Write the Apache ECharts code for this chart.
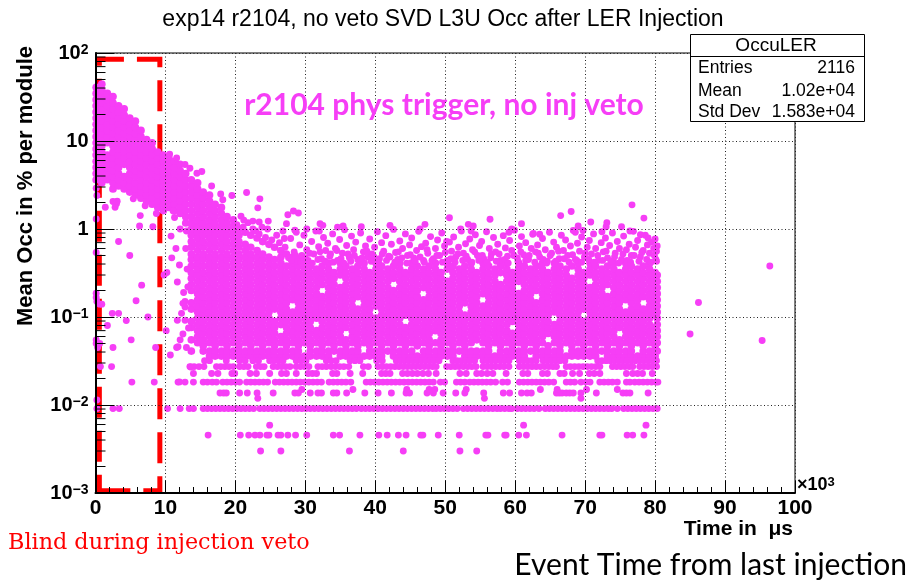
<!DOCTYPE html>
<html>
<head>
<meta charset="utf-8">
<script src="https://cdn.jsdelivr.net/npm/echarts@6.0.0/dist/echarts.min.js"></script>
<style>html,body{margin:0;padding:0;background:#fff}#chart{width:915px;height:585px}</style>
</head>
<body>
<div id="chart"></div>
<script>
// Mean SVD L3U occupancy (%) vs. time since the last LER injection (x in units of 10^3 us).

// Early decay band inside the injection-veto window: [time, occupancies...]
const bandCols = [
  [0.1, 3.63,4.27,5.01,5.89,6.92,8.13,9.55,11.2,13.2,15.5,18.2,21.4,25.1,29.5,34.7,40.7],
  [0.9, 3.35,3.94,4.62,5.43,6.38,7.5,8.81,10.4,12.2,14.3,16.8,19.7,23.2,27.2,32,37.6,44.2],
  [1.7, 3.63,4.27,5.01,5.89,6.92,9.55,11.2,13.2,15.5,18.2,21.4,25.1,29.5,34.7],
  [2.5, 2.85,3.35,3.94,4.62,5.43,6.38,7.5,8.81,10.4,12.2,14.3,16.8,19.7,23.2,27.2,32],
  [3.3, 3.09,3.63,4.27,5.01,5.89,6.92,8.13,9.55,11.2,13.2,15.5,18.2,21.4,25.1],
  [4.1, 2.85,3.35,3.94,5.43,6.38,7.5,8.81,10.4,12.2,14.3,16.8,19.7,23.2],
  [4.9, 2.63,3.09,3.63,4.27,5.01,5.89,6.92,8.13,9.55,11.2,13.2,15.5,18.2],
  [5.7, 2.43,2.85,3.35,3.94,4.62,5.43,6.38,7.5,8.81,10.4,12.2,14.3,16.8],
  [6.5, 2.24,2.63,3.09,3.63,4.27,5.01,5.89,6.92,8.13,9.55,11.2,13.2],
  [7.3, 2.07,2.43,2.85,3.35,3.94,4.62,5.43,6.38,7.5,8.81,10.4],
  [8.1, 1.91,2.24,2.63,3.09,3.63,4.27,5.01,5.89,6.92,8.13,9.55],
  [8.9, 1.76,2.07,2.43,2.85,3.35,3.94,4.62,5.43,6.38,7.5],
  [9.7, 1.62,1.91,2.24,2.63,3.09,3.63,4.27,5.01,5.89,6.92],
  [10.5, 1.76,2.07,2.43,2.85,3.35,3.94,4.62,5.43,6.38],
  [11.3, 1.62,1.91,2.24,2.63,3.09,3.63,4.27,5.01,5.89],
  [12.1, 1.5,1.76,2.07,2.43,2.85,3.35,3.94,4.62,5.43],
  [12.9, 1.17,1.38,1.62,1.91,2.24,2.63,3.09,3.63,4.27]
];

// Main cloud after the veto window: [time, occupancies...]
const cloudCols = [
  [13.7, 0.041,0.055,0.076,0.089,0.123,0.145,0.2,0.234,0.275,0.32,0.38,0.45,0.52,0.62,0.72,0.85,1,1.17,1.38,1.62,1.91,2.24,2.63,3.09,3.63],
  [14.6, 0.051,0.06,0.07,0.082,0.097,0.114,0.133,0.157,0.184,0.216,0.254,0.3,0.35,0.41,0.48,0.57,0.67,0.79,0.92,1.08,1.27,1.5,1.76,2.07,2.43,2.85,3.35],
  [15.4, 0.041,0.047,0.055,0.065,0.076,0.089,0.105,0.123,0.145,0.17,0.2,0.234,0.275,0.32,0.38,0.45,0.52,0.62,0.72,0.85,1,1.17,1.38,1.62,1.91,2.24,2.63],
  [16.3, 0.036,0.041,0.051,0.06,0.07,0.082,0.097,0.114,0.133,0.157,0.184,0.216,0.254,0.3,0.35,0.41,0.48,0.57,0.67,0.79,0.92,1.08,1.27,1.5,1.76,2.07,2.43],
  [17.1, 0.036,0.041,0.047,0.055,0.065,0.076,0.089,0.105,0.123,0.145,0.17,0.2,0.234,0.275,0.32,0.38,0.45,0.52,0.62,0.72,0.85,1,1.17,1.38,1.62,1.91],
  [18.0, 0.036,0.041,0.051,0.06,0.07,0.082,0.097,0.114,0.133,0.157,0.184,0.216,0.254,0.3,0.35,0.41,0.48,0.57,0.67,0.79,0.92,1.08,1.27,1.5,1.76],
  [18.8, 0.036,0.041,0.047,0.055,0.065,0.076,0.089,0.105,0.123,0.145,0.17,0.2,0.234,0.275,0.32,0.38,0.45,0.52,0.62,0.72,0.85,1,1.17,1.38],
  [19.7, 0.036,0.041,0.051,0.06,0.07,0.082,0.097,0.114,0.133,0.157,0.184,0.216,0.254,0.3,0.35,0.41,0.48,0.57,0.67,0.79,0.92,1.08,1.27],
  [20.5, 0.036,0.041,0.047,0.055,0.065,0.076,0.089,0.105,0.123,0.145,0.17,0.2,0.234,0.275,0.32,0.38,0.45,0.52,0.62,0.72,0.85,1],
  [21.4, 0.036,0.041,0.051,0.06,0.07,0.082,0.097,0.114,0.133,0.157,0.184,0.216,0.254,0.3,0.35,0.41,0.48,0.57,0.67,0.92],
  [22.2, 0.036,0.041,0.047,0.055,0.065,0.076,0.089,0.105,0.123,0.145,0.17,0.2,0.234,0.275,0.32,0.38,0.45,0.52,0.62,0.85],
  [23.1, 0.036,0.041,0.051,0.06,0.07,0.082,0.097,0.114,0.133,0.157,0.184,0.216,0.254,0.3,0.35,0.41,0.48,0.57,0.79],
  [23.9, 0.036,0.041,0.047,0.055,0.065,0.076,0.089,0.105,0.123,0.145,0.17,0.2,0.234,0.275,0.32,0.38,0.45,0.52,0.72],
  [24.8, 0.036,0.041,0.051,0.06,0.07,0.082,0.097,0.114,0.133,0.157,0.184,0.216,0.254,0.3,0.35,0.41,0.48,0.67],
  [25.6, 0.036,0.041,0.047,0.055,0.065,0.076,0.089,0.123,0.145,0.17,0.2,0.234,0.275,0.32,0.38,0.45,0.62],
  [26.5, 0.036,0.041,0.051,0.06,0.082,0.097,0.114,0.133,0.157,0.184,0.216,0.254,0.3,0.35,0.41,0.48,0.57],
  [27.3, 0.036,0.041,0.047,0.055,0.065,0.076,0.089,0.105,0.123,0.145,0.17,0.2,0.234,0.275,0.32,0.38,0.52],
  [28.2, 0.036,0.041,0.051,0.06,0.07,0.082,0.097,0.114,0.157,0.184,0.216,0.254,0.3,0.35,0.41,0.48],
  [29.0, 0.036,0.041,0.047,0.055,0.065,0.076,0.089,0.105,0.123,0.145,0.17,0.2,0.234,0.275,0.32,0.38,0.45],
  [29.9, 0.036,0.051,0.06,0.07,0.082,0.097,0.114,0.133,0.157,0.184,0.216,0.254,0.3,0.35,0.41],
  [30.7, 0.036,0.041,0.047,0.055,0.065,0.076,0.089,0.105,0.123,0.145,0.17,0.2,0.234,0.275,0.32,0.38],
  [31.6, 0.036,0.041,0.051,0.06,0.07,0.097,0.114,0.133,0.157,0.184,0.216,0.254,0.3,0.35],
  [32.4, 0.036,0.041,0.047,0.055,0.065,0.076,0.089,0.105,0.123,0.145,0.17,0.234,0.275,0.32,0.38],
  [33.3, 0.036,0.041,0.051,0.06,0.07,0.082,0.097,0.114,0.133,0.157,0.184,0.216,0.254,0.3,0.35,0.41],
  [34.1, 0.041,0.047,0.055,0.065,0.076,0.089,0.105,0.123,0.145,0.17,0.2,0.234,0.275,0.32],
  [35.0, 0.036,0.041,0.051,0.06,0.07,0.082,0.097,0.114,0.133,0.157,0.184,0.216,0.3,0.35,0.41],
  [35.8, 0.036,0.041,0.047,0.055,0.076,0.089,0.105,0.123,0.145,0.17,0.2,0.234,0.275,0.32,0.38],
  [36.7, 0.036,0.041,0.051,0.06,0.07,0.082,0.097,0.114,0.133,0.157,0.184,0.216,0.254,0.3,0.35],
  [37.5, 0.036,0.041,0.047,0.055,0.065,0.076,0.089,0.105,0.123,0.17,0.2,0.234,0.275,0.32,0.38],
  [38.4, 0.036,0.051,0.06,0.07,0.082,0.097,0.114,0.133,0.157,0.184,0.216,0.254,0.3,0.35,0.41],
  [39.2, 0.036,0.041,0.047,0.055,0.065,0.076,0.089,0.105,0.123,0.145,0.17,0.2,0.234,0.275,0.32],
  [40.1, 0.036,0.041,0.051,0.06,0.07,0.082,0.097,0.133,0.157,0.184,0.216,0.254,0.3,0.35,0.41],
  [40.9, 0.036,0.041,0.047,0.055,0.065,0.076,0.089,0.105,0.123,0.145,0.17,0.2,0.234,0.275,0.32,0.38],
  [41.8, 0.041,0.051,0.06,0.07,0.082,0.097,0.114,0.133,0.157,0.184,0.216,0.254,0.3,0.35],
  [42.6, 0.036,0.041,0.047,0.055,0.065,0.076,0.089,0.105,0.123,0.145,0.17,0.2,0.275,0.32,0.38],
  [43.5, 0.036,0.041,0.051,0.06,0.07,0.082,0.097,0.114,0.133,0.157,0.184,0.216,0.254,0.3,0.35,0.41],
  [44.3, 0.036,0.041,0.047,0.055,0.065,0.076,0.105,0.123,0.145,0.17,0.2,0.234,0.275,0.32],
  [45.2, 0.036,0.041,0.051,0.06,0.07,0.082,0.097,0.114,0.133,0.157,0.184,0.216,0.254,0.3,0.35,0.41],
  [46.0, 0.036,0.047,0.055,0.065,0.076,0.089,0.105,0.123,0.145,0.17,0.2,0.234,0.275,0.32,0.38],
  [46.9, 0.036,0.041,0.051,0.06,0.07,0.082,0.097,0.114,0.133,0.157,0.216,0.254,0.3,0.35],
  [47.7, 0.036,0.041,0.047,0.055,0.065,0.076,0.089,0.105,0.123,0.145,0.17,0.2,0.234,0.275,0.32,0.38],
  [48.6, 0.036,0.041,0.051,0.07,0.082,0.097,0.114,0.133,0.157,0.184,0.216,0.254,0.3,0.35,0.41],
  [49.4, 0.036,0.041,0.047,0.055,0.065,0.076,0.089,0.105,0.123,0.145,0.17,0.2,0.234,0.275,0.32],
  [50.3, 0.036,0.041,0.051,0.06,0.07,0.082,0.097,0.114,0.133,0.157,0.184,0.216,0.254,0.35,0.41],
  [51.1, 0.036,0.041,0.047,0.055,0.065,0.076,0.089,0.105,0.123,0.145,0.17,0.2,0.234,0.275,0.32,0.38],
  [52.0, 0.041,0.051,0.06,0.07,0.082,0.097,0.114,0.133,0.157,0.184,0.216,0.254,0.3,0.35],
  [52.8, 0.036,0.041,0.047,0.055,0.065,0.076,0.089,0.105,0.145,0.17,0.2,0.234,0.275,0.32,0.38],
  [53.7, 0.036,0.041,0.051,0.06,0.07,0.082,0.097,0.114,0.133,0.157,0.184,0.216,0.254,0.3,0.35,0.41],
  [54.5, 0.036,0.041,0.055,0.065,0.076,0.089,0.105,0.123,0.145,0.17,0.2,0.234,0.275,0.32],
  [55.4, 0.036,0.041,0.051,0.06,0.07,0.082,0.097,0.114,0.133,0.184,0.216,0.254,0.3,0.35,0.41],
  [56.2, 0.036,0.041,0.047,0.055,0.065,0.076,0.089,0.105,0.123,0.145,0.17,0.2,0.234,0.275,0.32,0.38],
  [57.1, 0.036,0.051,0.06,0.07,0.082,0.097,0.114,0.133,0.157,0.184,0.216,0.254,0.3,0.35],
  [57.9, 0.036,0.041,0.047,0.055,0.065,0.076,0.089,0.105,0.123,0.145,0.17,0.2,0.234,0.32,0.38],
  [58.8, 0.036,0.041,0.051,0.06,0.07,0.082,0.097,0.114,0.133,0.157,0.184,0.216,0.254,0.3,0.35,0.41],
  [59.6, 0.036,0.041,0.047,0.055,0.065,0.089,0.105,0.123,0.145,0.17,0.2,0.234,0.275,0.32],
  [60.5, 0.036,0.041,0.051,0.06,0.07,0.082,0.097,0.114,0.133,0.157,0.184,0.254,0.3,0.35,0.41],
  [61.3, 0.036,0.041,0.047,0.055,0.065,0.076,0.089,0.105,0.123,0.145,0.17,0.2,0.234,0.275,0.32,0.38],
  [62.2, 0.041,0.051,0.06,0.07,0.082,0.097,0.114,0.133,0.157,0.184,0.216,0.254,0.3,0.35],
  [63.0, 0.036,0.041,0.047,0.055,0.065,0.076,0.089,0.105,0.123,0.145,0.2,0.234,0.275,0.32,0.38],
  [63.9, 0.036,0.041,0.051,0.06,0.07,0.082,0.097,0.114,0.133,0.157,0.184,0.216,0.254,0.3,0.35,0.41],
  [64.7, 0.036,0.041,0.047,0.065,0.076,0.089,0.105,0.123,0.145,0.17,0.2,0.234,0.275,0.32],
  [65.6, 0.036,0.041,0.051,0.06,0.07,0.082,0.114,0.133,0.157,0.184,0.216,0.254,0.3,0.35,0.41],
  [66.4, 0.036,0.041,0.047,0.055,0.065,0.076,0.089,0.105,0.123,0.145,0.17,0.2,0.234,0.275,0.32,0.38],
  [67.3, 0.036,0.051,0.06,0.07,0.082,0.097,0.114,0.133,0.157,0.184,0.216,0.254,0.3,0.35],
  [68.1, 0.036,0.041,0.047,0.055,0.065,0.076,0.089,0.105,0.123,0.145,0.17,0.2,0.234,0.275,0.38],
  [69.0, 0.036,0.041,0.051,0.06,0.07,0.082,0.097,0.114,0.133,0.157,0.184,0.216,0.254,0.3,0.35,0.41],
  [69.8, 0.036,0.041,0.047,0.055,0.065,0.076,0.089,0.123,0.145,0.17,0.2,0.234,0.275,0.32],
  [70.7, 0.036,0.041,0.051,0.06,0.07,0.082,0.097,0.114,0.133,0.157,0.184,0.216,0.3,0.35,0.41],
  [71.5, 0.036,0.041,0.047,0.055,0.065,0.076,0.089,0.105,0.123,0.145,0.17,0.2,0.234,0.275,0.32,0.38],
  [72.4, 0.041,0.051,0.06,0.07,0.082,0.097,0.114,0.133,0.157,0.184,0.216,0.254,0.3,0.35],
  [73.2, 0.036,0.041,0.047,0.055,0.065,0.076,0.089,0.105,0.123,0.145,0.17,0.234,0.275,0.32,0.38],
  [74.1, 0.036,0.041,0.051,0.06,0.07,0.082,0.097,0.114,0.133,0.157,0.184,0.216,0.254,0.3,0.35,0.41],
  [74.9, 0.036,0.041,0.047,0.055,0.076,0.089,0.105,0.123,0.145,0.17,0.2,0.234,0.275,0.32],
  [75.8, 0.036,0.041,0.051,0.06,0.07,0.082,0.097,0.114,0.157,0.184,0.216,0.254,0.3,0.35,0.41],
  [76.6, 0.036,0.041,0.047,0.055,0.065,0.076,0.089,0.105,0.123,0.145,0.17,0.2,0.234,0.275,0.32,0.38],
  [77.5, 0.036,0.051,0.06,0.07,0.082,0.097,0.114,0.133,0.157,0.184,0.216,0.254,0.3,0.35],
  [78.3, 0.036,0.041,0.047,0.055,0.065,0.076,0.089,0.105,0.123,0.17,0.2,0.234,0.275,0.32,0.38],
  [79.2, 0.036,0.041,0.051,0.06,0.07,0.082,0.097,0.114,0.133,0.157,0.184,0.216,0.254,0.3,0.35,0.41],
  [80.0, 0.036,0.041,0.047,0.055,0.065,0.076,0.105,0.123,0.145,0.17,0.2,0.234,0.275,0.32],
  [80.3, 0.041,0.051,0.06,0.07,0.082,0.097,0.114,0.133,0.157,0.184,0.216,0.254,0.3]
];

// Quantised low-occupancy levels (%) and the times at which they occur
const rowLevels = [0.003, 0.00455, 0.0059, 0.0091, 0.0119, 0.0137, 0.015, 0.0182, 0.0228, 0.0273, 0.0319];
const rowTimes = [
  [23.6, 26.5, 36.3, 44.0, 52.1, 54.5],
  [16.1, 20.7, 21.9, 22.8, 23.5, 24.5, 24.8, 26.1, 26.5, 27.5, 28.6, 30.2, 34.0, 34.9, 37.8, 40.5, 41.7, 43.3, 44.4, 46.5, 46.8, 49.0, 52.0, 55.8, 56.1, 58.5, 58.7, 60.5, 61.6, 66.7, 72.1, 72.4, 76.0, 76.8, 78.4],
  [24.9, 61.2, 78.7],
  [0.2, 2.5, 3.4, 10.3, 12.1, 13.4, 14.0, 15.4, 16.0, 16.6, 17.2, 17.8, 18.4, 19.0, 19.6, 20.2, 20.8, 21.4, 22.0, 22.6, 23.5, 24.1, 24.7, 25.3, 25.9, 26.5, 27.1, 27.7, 28.3, 28.9, 29.5, 30.1, 30.7, 31.3, 31.9, 32.5, 33.1, 33.7, 34.3, 34.9, 35.5, 36.1, 36.7, 37.3, 38.0, 38.6, 39.2, 39.8, 40.4, 41.0, 41.6, 42.2, 42.8, 43.4, 44.0, 44.6, 45.2, 45.8, 46.4, 47.0, 47.6, 48.2, 48.7, 49.3, 49.9, 50.5, 51.1, 51.7, 52.6, 53.2, 53.8, 54.4, 55.0, 55.6, 56.2, 56.8, 57.4, 57.9, 58.5, 59.1, 59.5, 60.3, 60.9, 61.5, 62.1, 62.7, 63.4, 64.3, 64.9, 65.5, 66.1, 66.7, 67.3, 67.9, 68.5, 69.1, 69.7, 70.3, 70.9, 71.5, 72.1, 72.7, 73.3, 73.8, 74.6, 75.5, 76.1, 76.7, 77.3, 77.9, 78.5, 79.1, 79.7, 80.3],
  [23.2, 55.6, 69.4],
  [17.8, 18.3, 18.7, 20.6, 21.7, 23.1, 25.4, 28.5, 29.0, 30.7, 31.8, 32.3, 34.0, 34.5, 35.9, 38.5, 40.4, 42.3, 44.4, 44.9, 47.4, 48.3, 49.7, 51.5, 52.8, 55.5, 58.3, 59.2, 60.9, 61.7, 62.3, 65.9, 66.3, 66.7, 67.3, 67.8, 68.3, 69.4, 71.6, 75.4, 75.9, 76.4, 79.0],
  [29.5, 36.8, 44.5, 47.7, 48.5, 53.0, 63.6, 66.0, 70.2, 74.6],
  [5.2, 8.4, 11.8, 12.8, 14.0, 15.4, 16.0, 16.7, 17.3, 18.2, 18.8, 19.4, 20.0, 20.6, 21.6, 22.2, 22.8, 23.4, 24.0, 24.6, 25.7, 26.3, 26.9, 27.5, 28.1, 28.7, 29.3, 29.9, 30.5, 31.1, 31.7, 32.3, 33.4, 34.0, 34.6, 35.2, 35.8, 36.5, 38.7, 39.3, 39.9, 40.5, 41.1, 41.7, 42.3, 42.9, 43.5, 44.1, 44.7, 45.3, 45.9, 46.5, 47.1, 47.7, 48.3, 49.3, 49.9, 51.6, 52.2, 52.8, 53.5, 54.1, 54.7, 55.3, 55.9, 56.5, 57.2, 58.2, 58.9, 60.6, 61.2, 61.8, 62.4, 63.0, 63.6, 64.2, 64.8, 65.5, 67.3, 67.9, 68.5, 69.4, 70.1, 70.7, 72.1, 72.7, 73.3, 73.9, 74.6, 75.9, 76.4, 77.1, 77.7, 78.3, 78.9, 79.5, 80.1, 80.4],
  [14.0, 16.6, 17.5, 19.5, 19.9, 22.1, 23.0, 24.9, 26.6, 27.3, 28.7, 30.4, 31.0, 31.6, 33.9, 34.5, 36.4, 38.2, 40.9, 41.5, 42.1, 43.9, 44.6, 45.3, 46.0, 46.8, 47.6, 48.7, 52.1, 53.0, 54.5, 55.2, 56.0, 56.8, 58.7, 61.1, 61.8, 63.9, 64.6, 66.4, 67.0, 68.2, 69.2, 70.6, 71.3, 72.1, 75.9, 76.8, 77.5, 78.2, 79.6],
  [0.7, 2.3, 13.5, 14.1, 14.8, 15.5, 17.3, 17.9, 18.5, 19.1, 19.7, 20.6, 21.2, 21.8, 23.0, 23.6, 24.1, 25.4, 26.0, 26.6, 27.2, 27.8, 28.7, 29.3, 29.9, 30.5, 31.8, 32.4, 33.0, 33.7, 34.3, 34.9, 35.5, 36.2, 38.3, 39.0, 40.4, 41.0, 41.6, 42.2, 42.8, 43.4, 44.0, 44.6, 45.2, 45.8, 46.4, 47.0, 47.6, 48.2, 48.7, 50.2, 50.8, 51.4, 52.0, 52.6, 53.2, 53.8, 54.4, 55.4, 56.0, 56.6, 57.2, 57.8, 58.4, 59.1, 60.6, 61.2, 61.8, 62.4, 63.0, 63.6, 64.2, 64.8, 65.4, 65.9, 67.3, 67.9, 68.5, 69.1, 69.7, 70.3, 70.9, 71.5, 72.1, 73.9, 74.5, 75.1, 75.7, 76.3, 76.8, 77.8, 78.4, 79.0, 79.6, 80.2],
  [15.6, 16.3, 18.7, 20.6, 21.4, 22.5, 23.3, 24.9, 25.5, 26.2, 26.8, 28.7, 29.4, 30.1, 33.0, 33.7, 34.4, 36.4, 37.1, 37.8, 40.2, 41.0, 43.0, 43.6, 44.2, 44.8, 45.4, 46.0, 46.6, 47.2, 47.8, 48.4, 49.1, 51.1, 51.7, 52.3, 52.9, 53.5, 54.2, 55.4, 56.0, 56.6, 57.2, 57.9, 58.5, 59.1, 60.6, 61.2, 61.8, 62.4, 63.0, 64.0, 64.6, 65.2, 65.8, 66.4, 67.1, 71.8, 72.4, 73.0, 73.6, 74.2, 74.8, 75.4, 76.0, 76.6, 77.2, 77.8, 78.4, 79.0, 79.6, 80.2]
];

// Isolated entries around the band and the transition region: [time, occupancy]
const bandExtra = [
  [1.4,1.77],[2.8,1.77],[3.0,1.93],[3.1,2.07],[5.4,2.2],[6.4,1.42],[6.3,1.08],[7.1,1.84],[8.2,1.06],[8.7,1.5],
  [2.5,2.05],[3.3,0.72],[4.9,0.5],[6.6,0.23],[5.8,0.153],[2.4,0.11],[3.3,0.11],[4.4,0.091],[7.5,0.1],[1.7,0.08],
  [5.1,0.055],[2.5,0.045],[8.6,0.045],[0.1,0.54],[0.1,0.186],[0.1,0.167],[0.2,0.15],[0.6,0.14],[0.9,0.14],
  [0.1,0.05],[0.3,0.045],[0.6,0.05],[0.1,0.055],[0.2,0.0114],[0.1,2.9],[0.2,2.4],[0.1,1.3],
  [10.3,1.86],[11.1,1.6],[11.3,1.35],[10.8,0.83],[12.1,1.0],[10.9,0.47],[11.5,0.6],[13.0,0.95],[12.0,0.39],
  [10.2,0.32],[11.7,0.25],[12.6,0.19],[12.8,0.15],[12.8,0.13],[12.3,0.11],[11.7,0.092],[12.8,0.092],[12.1,0.055],
  [13.0,0.045],[11.6,0.045],[10.1,0.07],[12.5,0.143],[12.5,0.064],[11.8,0.046],[10.7,0.037],[12.0,0.0183],
  [13.6,0.027],[9.8,0.3],[12.9,0.6],[13.1,0.35],[13.2,0.22],[13.3,0.075],[15.2,4.5],[14.5,4.3],[12.8,5.4],
  [11.6,6.4],[10.6,7.1],[13.5,4.9]
];

// Sparse upper edge of the plateau and high outliers: [time, occupancy]
const upperPts = [
  [20.2,1.12],[20.8,1.4],[21.1,1.05],[21.8,1.18],[22.5,1.0],[22.9,0.95],[23.4,0.88],[23.8,1.05],[24.3,0.8],[24.6,1.0],
  [25.2,0.75],[25.9,0.85],[26.3,0.7],[26.8,0.95],[27.0,0.78],
  [27.1,0.62],[27.6,0.47],[27.9,0.78],[28.4,0.55],[28.7,0.92],[28.9,0.43],[29.2,0.66],[29.5,0.5],[29.8,0.85],[30.2,0.58],
  [30.4,0.44],[30.9,0.72],[31.2,0.52],[31.5,0.95],[31.9,0.63],[32.3,0.46],[32.6,0.8],[32.9,0.57],[33.2,0.69],[33.5,0.49],
  [33.9,0.88],[34.3,0.6],[34.6,0.44],[34.9,0.76],[35.3,0.53],[35.6,0.98],[35.9,0.65],[36.3,0.47],[36.6,0.83],[36.9,0.58],
  [37.2,0.71],[37.5,0.45],[37.9,0.9],[38.3,0.55],[38.6,0.64],[38.9,0.48],[39.2,0.77],[39.5,0.52],[39.9,0.62],[40.3,0.93],
  [40.6,0.46],[40.9,0.7],[41.2,0.56],[41.5,0.84],[41.9,0.49],[42.3,0.67],[42.6,0.99],[42.9,0.54],[43.2,0.45],[43.5,0.73],
  [43.9,0.6],[44.3,0.88],[44.6,0.5],[44.9,0.66],[45.2,0.79],[45.5,0.47],[45.9,0.57],[46.2,0.94],[46.6,0.63],[46.9,0.44],
  [47.2,0.69],[47.5,0.53],[47.9,0.82],[48.3,0.46],[48.6,0.6],[48.9,0.75],[49.2,0.5],[49.5,0.9],[49.9,0.64],[50.3,0.44],
  [50.6,0.71],[50.9,0.56],[51.2,0.81],[51.5,0.48],[51.9,0.62],[52.3,0.95],[52.6,0.53],[52.9,0.68],[53.2,0.45],[53.5,0.77],
  [53.9,0.58],[54.3,0.86],[54.6,0.5],[54.9,0.65],[55.2,0.72],[55.5,0.46],[55.9,0.93],[56.3,0.6],[56.6,0.52],[56.9,0.8],
  [57.2,0.55],[57.5,0.67],[57.9,0.44],[58.3,0.84],[58.6,0.61],[58.9,0.49],[59.2,0.74],[59.5,0.57],[59.9,0.97],[60.3,0.47],
  [60.6,0.64],[60.9,0.82],[61.2,0.51],[61.5,0.7],[61.9,0.45],[62.3,0.6],[62.6,0.89],[62.9,0.55],[63.2,0.66],[63.5,0.48],
  [63.9,0.78],[64.3,0.58],[64.6,0.43],[64.9,0.92],[65.2,0.53],[65.5,0.71],[65.9,0.62],[66.3,0.46],[66.6,0.85],[66.9,0.57],
  [67.2,0.75],[67.5,0.5],[67.9,0.64],[68.3,0.96],[68.6,0.45],[68.9,0.69],[69.2,0.56],[69.5,0.81],[69.9,0.48],[70.3,0.62],
  [70.6,0.74],[70.9,0.52],[71.2,0.88],[71.5,0.6],[71.9,0.44],[72.3,0.7],[72.6,0.55],[72.9,0.79],[73.2,0.47],[73.5,0.65],
  [73.9,0.9],[74.3,0.53],[74.6,0.72],[74.9,0.6],[75.2,0.45],[75.5,0.83],[75.9,0.58],[76.3,0.67],[76.6,0.5],[76.9,0.94],
  [77.2,0.62],[77.5,0.74],[77.9,0.48],[78.3,0.57],[78.6,0.85],[78.9,0.66],[79.2,0.53],[79.5,0.71],[79.8,0.6],[80.1,0.45],
  [80.3,0.64],[80.2,0.56],
  [16.6,3.08],[21.6,2.6],[17.9,2.5],[19.5,2.4],[23.5,2.2],[18.2,2.15],[23.2,1.74],[27.5,1.45],[28.3,1.6],[29.0,1.52],
  [24.7,1.23],[21.2,1.26],[22.5,1.23],[23.4,1.2],[32.1,1.15],[32.5,1.1],[35.4,1.08],[38.0,1.06],[42.1,1.1],[47.1,1.13],
  [46.4,1.0],[50.6,1.34],[53.3,1.13],[54.0,1.08],[56.4,1.29],[66.5,1.42],[68.0,1.58],[76.7,1.88],[78.4,1.33],[69.0,1.08],
  [70.8,1.2],[73.1,1.18],[75.2,1.06],[60.9,1.15],[59.5,1.0],[52.2,1.0],[53.7,0.95],[59.1,0.92],[68.6,0.92],[69.7,0.96],
  [72.4,0.93],[73.0,1.06],[76.4,0.95],[77.9,0.86],[79.0,0.79],[80.0,0.77],[62.5,0.87],[63.5,0.87],[50.2,0.72],[27.3,1.15],
  [28.5,0.97],[30.2,1.0],[34.6,1.05],[32.0,0.95]
];

// Entries just above the dense core of the plateau: [time, occupancy]
const coreEdgePts = [
  [28.0,0.44],[28.6,0.5],[29.4,0.42],[30.0,0.47],[30.6,0.53],[31.0,0.41],[31.8,0.45],[32.1,0.55],[32.8,0.43],[33.6,0.52],
  [34.0,0.42],[34.5,0.57],[35.1,0.46],[35.5,0.41],[36.1,0.52],[36.5,0.43],[37.0,0.5],[37.7,0.42],[38.1,0.47],[38.8,0.56],
  [39.4,0.43],[39.8,0.48],[40.5,0.41],[41.0,0.52],[41.6,0.44],[42.1,0.48],[42.8,0.42],[43.3,0.55],[43.8,0.47],[44.5,0.41],
  [45.0,0.51],[45.7,0.43],[46.4,0.48],[47.0,0.42],[47.4,0.58],[48.1,0.44],[48.8,0.5],[49.6,0.42],[50.0,0.54],[50.8,0.46],
  [51.4,0.42],[51.8,0.52],[52.5,0.44],[53.0,0.49],[53.8,0.42],[54.2,0.55],[54.8,0.44],[55.3,0.5],[56.0,0.42],[56.5,0.47],
  [57.3,0.43],[57.7,0.52],[58.5,0.45],[59.0,0.41],[59.8,0.5],[60.4,0.43],[60.8,0.55],[61.5,0.44],[62.0,0.5],[62.8,0.42],
  [63.3,0.53],[64.0,0.45],[64.5,0.41],[65.0,0.5],[65.8,0.43],[66.2,0.56],[67.0,0.46],[67.7,0.42],[68.2,0.51],[68.8,0.44],
  [69.5,0.42],[70.0,0.53],[70.5,0.45],[71.3,0.42],[71.8,0.5],[72.5,0.44],[73.0,0.56],[73.7,0.43],[74.2,0.48],[74.8,0.41],
  [75.4,0.52],[76.0,0.44],[76.5,0.42],[77.0,0.5],[77.7,0.43],[78.1,0.54],[78.8,0.45],[79.4,0.42],[79.9,0.5],[80.2,0.43]
];

// Late entries beyond the main acquisition window
const latePts = [[85.0,0.064],[86.2,0.146],[95.3,0.054],[96.4,0.38]];

// Axis tick values
const xTicks = [0, 10, 20, 30, 40, 50, 60, 70, 80, 90, 100];
const yDecades = [0.001, 0.01, 0.1, 1, 10, 100];

// Veto window marker (time range, occupancy range)
const vetoBox = [[0.55, 9.2], [0.00106, 85]];

// dense part (band + cloud) and the sparser entries
const densePoints = [];
bandCols.concat(cloudCols).forEach(col => {
  for (let i = 1; i < col.length; i++) densePoints.push([col[0], col[i]]);
});
const sparsePoints = [];
rowLevels.forEach((lvl, i) => rowTimes[i].forEach(t => sparsePoints.push([t, lvl])));
bandExtra.concat(upperPts, coreEdgePts, latePts).forEach(p => sparsePoints.push(p));

// log-axis minor ticks at 2..9 x 10^n
const yMinor = [];
for (let d = 0; d < yDecades.length - 1; d++) {
  for (let m = 2; m <= 9; m++) yMinor.push([0, +(m * yDecades[d]).toPrecision(3)]);
}

const FONT = '"Liberation Sans", Arial, Helvetica, sans-serif';
const MAGENTA = '#f63ef6';

const supRich = {
  b: { fontFamily: FONT, fontWeight: 'bold', fontSize: 20, lineHeight: 20, padding: [4, 0, 0, 0], verticalAlign: 'bottom', color: '#000' },
  s: { fontFamily: FONT, fontWeight: 'bold', fontSize: 14, lineHeight: 14, verticalAlign: 'top', color: '#000' }
};

const chart = echarts.init(document.getElementById('chart'), null, { renderer: 'canvas' });
chart.setOption({
  animation: false,
  backgroundColor: '#fff',
  grid: { left: 95.5, right: 120, top: 53, bottom: 92, show: true, borderColor: '#000', borderWidth: 1, backgroundColor: 'transparent' },
  xAxis: {
    type: 'value', min: xTicks[0], max: xTicks[xTicks.length - 1], interval: 10, z: 5,
    axisLine: { show: true, onZero: false, lineStyle: { color: '#000', width: 2 } },
    axisTick: { show: true, inside: true, length: 12, lineStyle: { color: '#000', width: 1 } },
    minorTick: { show: true, splitNumber: 5, length: 6, lineStyle: { color: '#000', width: 1 } },
    splitLine: { show: true, lineStyle: { color: '#222', width: 1, type: [1, 2.5] } },
    axisLabel: { margin: 5, color: '#000', fontFamily: FONT, fontWeight: 'bold', fontSize: 21 }
  },
  yAxis: {
    type: 'log', logBase: 10, min: yDecades[0], max: yDecades[yDecades.length - 1], z: 5,
    axisLine: { show: true, onZero: false, lineStyle: { color: '#000', width: 2 } },
    axisTick: { show: true, inside: true, length: 19, lineStyle: { color: '#000', width: 1 } },
    splitLine: { show: true, lineStyle: { color: '#222', width: 1, type: [1, 2.5] } },
    axisLabel: {
      margin: 7, color: '#000', fontFamily: FONT, fontWeight: 'bold', fontSize: 20,
      formatter: v => {
        const e = Math.round(Math.log10(v));
        if (e === 0) return '1';
        if (e === 1) return '10';
        return '{b|10}{s|' + (e < 0 ? '\u2212' + (-e) : e) + '}';
      },
      rich: supRich
    }
  },
  series: [
    {
      type: 'scatter', data: densePoints, symbol: 'circle', symbolSize: 7.7, z: 2,
      itemStyle: { color: MAGENTA, opacity: 1 }, silent: true, large: false
    },
    {
      type: 'scatter', data: sparsePoints, symbol: 'circle', symbolSize: 6.9, z: 2,
      itemStyle: { color: MAGENTA, opacity: 1 }, silent: true, large: false
    },
    {
      type: 'custom', data: yMinor, z: 6, silent: true, clip: false,
      renderItem: (params, api) => {
        const p = api.coord([api.value(0), api.value(1)]);
        return { type: 'line', shape: { x1: p[0], y1: p[1], x2: p[0] + 10, y2: p[1] }, style: { stroke: '#000', lineWidth: 1 } };
      }
    },
    {
      type: 'scatter', data: [], z: 10, silent: true,
      markArea: {
        silent: true,
        itemStyle: { color: 'rgba(0,0,0,0)', borderColor: '#ff0000', borderWidth: 5, borderType: [31, 13] },
        data: [[{ coord: [vetoBox[0][0], vetoBox[1][0]] }, { coord: [vetoBox[0][1], vetoBox[1][1]] }]]
      }
    }
  ],
  graphic: [
    { type: 'text', z: 100, style: { x: 443, y: 20, text: 'exp14 r2104, no veto SVD L3U Occ after LER Injection', font: '23px ' + FONT, fill: '#000', textAlign: 'center', textVerticalAlign: 'middle' } },
    { type: 'text', z: 100, x: 26, y: 186, rotation: Math.PI / 2, style: { x: 0, y: 0, text: 'Mean Occ in % per module', font: 'bold 22px ' + FONT, fill: '#000', textAlign: 'center', textVerticalAlign: 'middle' } },
    { type: 'text', z: 100, style: { x: 444, y: 105, text: 'r2104 phys trigger, no inj veto', font: 'bold 30px Lato, "Open Sans", sans-serif', fill: MAGENTA, textAlign: 'center', textVerticalAlign: 'middle' } },
    { type: 'text', z: 100, style: { x: 793, y: 529, text: 'Time in  \u03bcs', font: 'bold 21px ' + FONT, fill: '#000', textAlign: 'right', textVerticalAlign: 'middle' } },
    { type: 'text', z: 100, style: { x: 797, y: 494, text: '{a|\u00d710}{s|3}', textAlign: 'left', textVerticalAlign: 'bottom',
        rich: { a: { fontFamily: FONT, fontWeight: 'bold', fontSize: 18, lineHeight: 18, padding: [5, 0, 0, 0], verticalAlign: 'bottom', color: '#000' },
                s: { fontFamily: FONT, fontWeight: 'bold', fontSize: 13, lineHeight: 13, verticalAlign: 'top', color: '#000' } } } },
    { type: 'text', z: 100, style: { x: 8, y: 543, text: 'Blind during injection veto', font: '22.3px "DejaVu Serif", serif', fill: '#ff0000', textAlign: 'left', textVerticalAlign: 'middle' } },
    { type: 'text', z: 100, style: { x: 907, y: 565, text: 'Event Time from last injection', font: '30px Lato, "Open Sans", sans-serif', fill: '#000', textAlign: 'right', textVerticalAlign: 'middle' } },
    // statistics box
    { type: 'rect', z: 100, shape: { x: 690.5, y: 34.5, width: 174, height: 87 }, style: { fill: '#fff', stroke: '#000', lineWidth: 1 } },
    { type: 'line', z: 101, shape: { x1: 690.5, y1: 56.5, x2: 864.5, y2: 56.5 }, style: { stroke: '#000', lineWidth: 1 } },
    { type: 'text', z: 101, style: { x: 776, y: 46, text: 'OccuLER', font: '19px ' + FONT, fill: '#000', textAlign: 'center', textVerticalAlign: 'middle' } },
    { type: 'text', z: 101, style: { x: 698, y: 68, text: 'Entries', font: '17.5px ' + FONT, fill: '#000', textAlign: 'left', textVerticalAlign: 'middle' } },
    { type: 'text', z: 101, style: { x: 855, y: 68, text: '2116', font: '17.5px ' + FONT, fill: '#000', textAlign: 'right', textVerticalAlign: 'middle' } },
    { type: 'text', z: 101, style: { x: 698, y: 91, text: 'Mean', font: '17.5px ' + FONT, fill: '#000', textAlign: 'left', textVerticalAlign: 'middle' } },
    { type: 'text', z: 101, style: { x: 855, y: 91, text: '1.02e+04', font: '17.5px ' + FONT, fill: '#000', textAlign: 'right', textVerticalAlign: 'middle' } },
    { type: 'text', z: 101, style: { x: 698, y: 112, text: 'Std Dev', font: '17.5px ' + FONT, fill: '#000', textAlign: 'left', textVerticalAlign: 'middle' } },
    { type: 'text', z: 101, style: { x: 855, y: 112, text: '1.583e+04', font: '17.5px ' + FONT, fill: '#000', textAlign: 'right', textVerticalAlign: 'middle' } }
  ]
});
</script>
</body>
</html>
